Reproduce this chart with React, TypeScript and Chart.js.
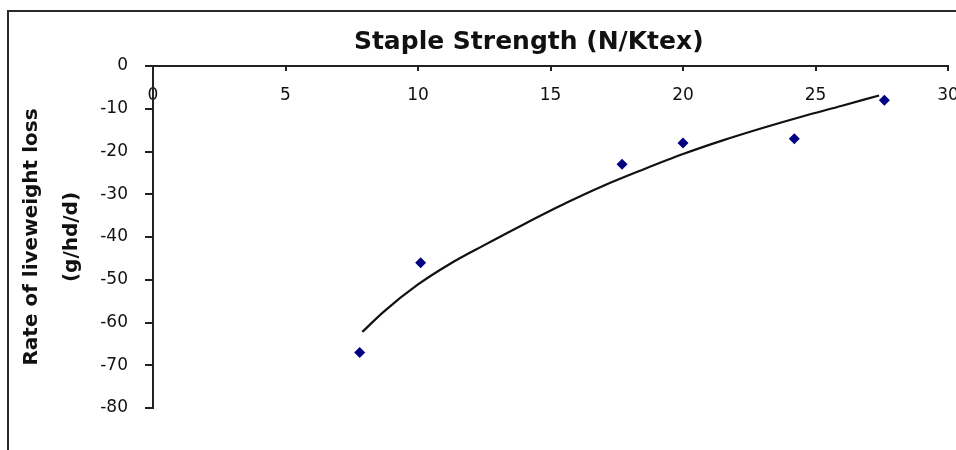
import React, { useEffect, useRef } from "react";
import { Chart, registerables } from "chart.js";

Chart.register(...registerables);

// Observed data (staple strength vs rate of liveweight loss)
const stapleStrength = [7.8, 10.1, 17.7, 20.0, 24.2, 27.6];
const liveweightLoss = [-67, -46, -23, -18, -17, -8];

// Trend line
const trendX = [7.9, 8.7, 10, 11.2, 12.5, 14, 15.6, 17, 18.5, 20, 21.5, 23, 24.5, 26, 27.4];
const trendY = [-62.2, -57.5, -51.1, -46.3, -41.9, -37.0, -32.0, -28.0, -24.2, -20.6, -17.4, -14.5, -11.8, -9.3, -6.9];

// Axis setup
const xTicks = [0, 5, 10, 15, 20, 25, 30];
const yTicks = [0, -10, -20, -30, -40, -50, -60, -70, -80];
const xTitle = "Staple Strength (N/Ktex)     ";
const yTitle = ["Rate of liveweight loss", "(g/hd/d)"];

export default function App() {
  const canvasRef = useRef<HTMLCanvasElement | null>(null);

  useEffect(() => {
    if (!canvasRef.current) return;
    const axisColor = "#222222";
    const chart = new Chart(canvasRef.current, {
      type: "scatter",
      data: {
        datasets: [
          {
            label: "Observed",
            data: stapleStrength.map((x, i) => ({ x, y: liveweightLoss[i] })),
            pointStyle: "rectRot",
            pointRadius: 5.5,
            backgroundColor: "#000080",
            borderColor: "#000080",
            borderWidth: 0,
            showLine: false,
          },
          {
            label: "Trend",
            data: trendX.map((x, i) => ({ x, y: trendY[i] })),
            showLine: true,
            pointRadius: 0,
            borderColor: "#111111",
            borderWidth: 2.2,
            cubicInterpolationMode: "monotone",
            fill: false,
          },
        ],
      },
      options: {
        animation: false,
        responsive: false,
        devicePixelRatio: 1,
        layout: { padding: { left: 0, top: 0, right: 61, bottom: 42 } },
        plugins: {
          legend: { display: false },
          tooltip: { enabled: false },
          title: { display: false },
        },
        scales: {
          x: {
            type: "linear",
            position: "top",
            min: xTicks[0],
            max: xTicks[xTicks.length - 1],
            afterBuildTicks: (scale: any) => {
              scale.ticks = xTicks.map((v) => ({ value: v }));
            },
            afterFit: (scale: any) => {
              scale.height = 54;
            },
            grid: {
              drawOnChartArea: false,
              drawTicks: true,
              tickLength: -5,
              color: axisColor,
              lineWidth: 2,
            },
            border: { display: true, color: axisColor, width: 2 },
            ticks: {
              autoSkip: false,
              maxRotation: 0,
              minRotation: 0,
              mirror: true,
              padding: 19,
              color: "#111111",
              font: { family: "'DejaVu Sans', Arial, sans-serif", size: 17 },
            },
            title: {
              display: true,
              text: xTitle,
              color: "#111111",
              font: { family: "'DejaVu Sans', Arial, sans-serif", size: 25, weight: "bold" },
              padding: { top: 15, bottom: 0 },
            },
          },
          y: {
            type: "linear",
            position: "left",
            min: yTicks[yTicks.length - 1],
            max: yTicks[0],
            afterBuildTicks: (scale: any) => {
              scale.ticks = yTicks.slice().reverse().map((v) => ({ value: v }));
            },
            afterFit: (scale: any) => {
              scale.width = 144;
            },
            grid: {
              drawOnChartArea: false,
              drawTicks: true,
              tickLength: 8,
              color: axisColor,
              lineWidth: 2,
            },
            border: { display: true, color: axisColor, width: 2 },
            ticks: {
              autoSkip: false,
              padding: 17,
              color: "#111111",
              font: { family: "'DejaVu Sans', Arial, sans-serif", size: 17 },
            },
            title: {
              display: true,
              text: yTitle,
              color: "#111111",
              font: {
                family: "'DejaVu Sans', Arial, sans-serif",
                size: 20,
                weight: "bold",
                lineHeight: "40px",
              },
              padding: { top: 3, bottom: 0 },
            },
          },
        },
      },
    });
    return () => chart.destroy();
  }, []);

  return (
    <div
      style={{
        position: "fixed",
        left: 0,
        top: 0,
        width: 956,
        height: 450,
        overflow: "hidden",
        background: "#ffffff",
      }}
    >
      <div
        style={{
          position: "absolute",
          left: 7,
          top: 10,
          width: 1000,
          height: 500,
          borderLeft: "2px solid #2a2a2a",
          borderTop: "2px solid #2a2a2a",
        }}
      />
      <canvas
        ref={canvasRef}
        width={1000}
        height={438}
        style={{ position: "absolute", left: 9, top: 12, width: 1000, height: 438 }}
      />
    </div>
  );
}
